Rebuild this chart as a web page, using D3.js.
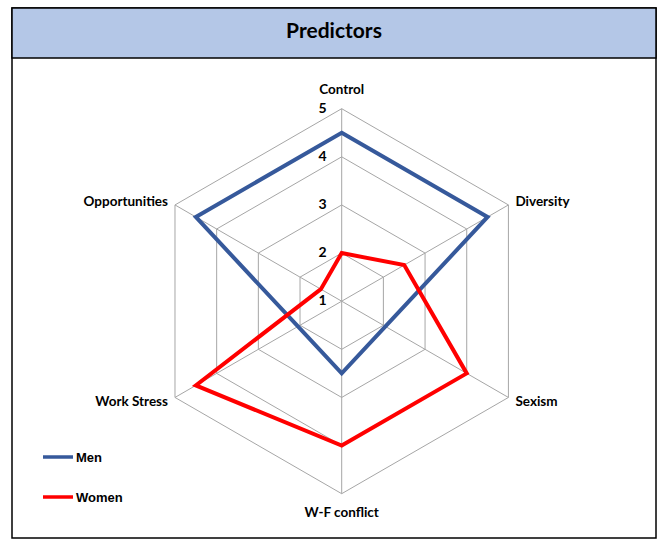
<!DOCTYPE html>
<html>
<head>
<meta charset="utf-8">
<script src="https://cdn.jsdelivr.net/npm/d3@7"></script>
<style>
  body { margin: 0; background: #fff; }
  svg { display: block; }
</style>
</head>
<body>
<svg id="chart" width="661" height="553"></svg>
<script>
// radar data
var axes = ["Control", "Diversity", "Sexism", "W-F conflict", "Work Stress", "Opportunities"];
var men = [4.5, 4.5, 2.05, 2.5, 2.05, 4.5];
var women = [2, 2.5, 4, 4, 4.5, 1.5];
var ticks = [1, 2, 3, 4, 5];
var seriesNames = ["Men", "Women"];
var seriesColors = ["#36599b", "#ff0000"];

var svg = d3.select("#chart");
var cx = 341.7, cy = 301.2;

// frame + title bar
svg.append("rect").attr("x", 12).attr("y", 8).attr("width", 644).attr("height", 530)
  .attr("fill", "#fff").attr("stroke", "#000").attr("stroke-width", 1.5);
svg.append("rect").attr("x", 12).attr("y", 8).attr("width", 644).attr("height", 50)
  .attr("fill", "#b4c7e7").attr("stroke", "#000").attr("stroke-width", 1.5);
svg.append("text").attr("x", 334).attr("y", 37.5).attr("text-anchor", "middle")
  .style("font-family", "Lato, 'Open Sans', sans-serif").style("font-weight", "bold")
  .style("font-size", "21px").attr("fill", "#000").text("Predictors");

var r = d3.scaleLinear().domain([1, 5]).range([0, 192.5]);
var angle = d3.scalePoint().domain(axes).range([0, 2 * Math.PI * 5 / 6]);

function pt(name, v) {
  var a = angle(name) - Math.PI / 2;
  return [cx + r(v) * Math.cos(a), cy + r(v) * Math.sin(a)];
}

var g = svg.append("g");

// hexagon grid
g.selectAll(".grid").data(ticks.slice(1)).enter().append("polygon")
  .attr("class", "grid")
  .attr("points", function(t) { return axes.map(function(a) { return pt(a, t).join(","); }).join(" "); })
  .attr("fill", "none").attr("stroke", "#a6a6a6").attr("stroke-width", 1);

// spokes
g.selectAll(".spoke").data(axes).enter().append("line")
  .attr("x1", cx).attr("y1", cy)
  .attr("x2", function(a) { return pt(a, 5)[0]; })
  .attr("y2", function(a) { return pt(a, 5)[1]; })
  .attr("stroke", "#a6a6a6").attr("stroke-width", 1);

// value ticks on the Control axis
g.selectAll(".tick").data(ticks).enter().append("text")
  .attr("x", cx - 15).attr("y", function(t) { return pt("Control", t)[1] - 1; })
  .attr("dy", "0.35em").attr("text-anchor", "end")
  .style("font-family", "Lato, sans-serif").style("font-weight", "bold").style("font-size", "14px")
  .text(function(t) { return t; });

// category labels
var labelOff = {
  "Control": [0, -19.5, "middle"],
  "Diversity": [7, -4, "start"],
  "Sexism": [7, 3.5, "start"],
  "W-F conflict": [0, 19, "middle"],
  "Work Stress": [-7, 3.5, "end"],
  "Opportunities": [-7, -4, "end"]
};
g.selectAll(".cat").data(axes).enter().append("text")
  .attr("x", function(a) { return pt(a, 5)[0] + labelOff[a][0]; })
  .attr("y", function(a) { return pt(a, 5)[1] + labelOff[a][1]; })
  .attr("dy", "0.35em")
  .attr("text-anchor", function(a) { return labelOff[a][2]; })
  .style("font-family", "Lato, sans-serif").style("font-weight", "bold").style("font-size", "13.5px")
  .text(function(a) { return a; });

// series
var line = d3.line().curve(d3.curveLinearClosed);
[men, women].forEach(function(vals, i) {
  g.append("path")
    .attr("d", line(axes.map(function(a, j) { return pt(a, vals[j]); })))
    .attr("fill", "none").attr("stroke", seriesColors[i]).attr("stroke-width", 4)
    .attr("stroke-linejoin", "miter");
});

// legend
var leg = svg.append("g").selectAll("g").data(seriesNames).enter().append("g")
  .attr("transform", function(d, i) { return "translate(43," + (457 + i * 40) + ")"; });
leg.append("line").attr("x1", 0).attr("x2", 30).attr("y1", 0).attr("y2", 0)
  .attr("stroke", function(d, i) { return seriesColors[i]; }).attr("stroke-width", 3.5);
leg.append("text").attr("x", 33).attr("dy", "0.35em")
  .style("font-family", "'Liberation Sans', Arial, sans-serif").style("font-weight", "bold").style("font-size", "13px")
  .text(function(d) { return d; });
</script>
</body>
</html>
